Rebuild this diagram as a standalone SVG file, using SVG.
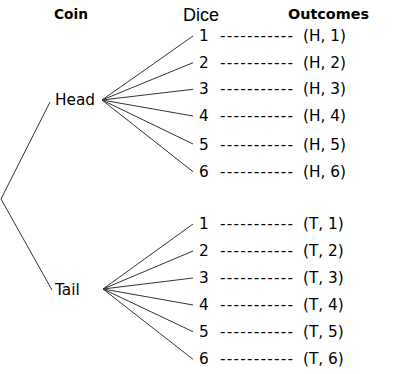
<svg xmlns="http://www.w3.org/2000/svg" width="407" height="374" viewBox="0 0 407 374">
<style>
.t{font-family:"DejaVu Sans",Verdana,sans-serif;font-size:15.3px;fill:#000}
.h{font-family:"DejaVu Sans",Verdana,sans-serif;font-size:14px;font-weight:bold;fill:#000}
.d{font-family:"Liberation Sans",Arial,sans-serif;font-size:18px;fill:#000}
.c line{stroke:#333;stroke-width:1}
</style>
<rect width="407" height="374" fill="#fff"/>
<g id="hdr-coin"><text class="h" x="54" y="19" textLength="34" lengthAdjust="spacingAndGlyphs">Coin</text></g>
<g id="hdr-dice"><text class="d" x="183" y="21" textLength="36" lengthAdjust="spacingAndGlyphs">Dice</text></g>
<g id="hdr-outcomes"><text class="h" x="288" y="19" textLength="81" lengthAdjust="spacingAndGlyphs">Outcomes</text></g>
<g id="connectors" class="c">
<line x1="1" y1="199" x2="50" y2="102"/>
<line x1="1" y1="199" x2="52" y2="290"/>
<line x1="102" y1="100" x2="193" y2="36"/>
<line x1="102" y1="100" x2="193" y2="62.7"/>
<line x1="102" y1="100" x2="193" y2="89.3"/>
<line x1="102" y1="100" x2="193" y2="116"/>
<line x1="102" y1="100" x2="193" y2="144"/>
<line x1="102" y1="100" x2="193" y2="171.7"/>
<line x1="103" y1="289" x2="193" y2="224"/>
<line x1="103" y1="289" x2="193" y2="251"/>
<line x1="103" y1="289" x2="193" y2="278"/>
<line x1="103" y1="289" x2="193" y2="305"/>
<line x1="103" y1="289" x2="193" y2="331.7"/>
<line x1="103" y1="289" x2="193" y2="359.3"/>
</g>
<g id="head"><text class="t" x="55" y="105">Head</text></g>
<g id="tail"><text class="t" x="55" y="295">Tail</text></g>
<g id="h1"><text class="t" x="199" y="41">1</text><text class="t" x="220" y="41" textLength="73" lengthAdjust="spacing">-----------</text><text class="t" x="303" y="41">(H, 1)</text></g>
<g id="h2"><text class="t" x="199" y="67.5">2</text><text class="t" x="220" y="67.5" textLength="73" lengthAdjust="spacing">-----------</text><text class="t" x="303" y="67.5">(H, 2)</text></g>
<g id="h3"><text class="t" x="199" y="94">3</text><text class="t" x="220" y="94" textLength="73" lengthAdjust="spacing">-----------</text><text class="t" x="303" y="94">(H, 3)</text></g>
<g id="h4"><text class="t" x="199" y="121">4</text><text class="t" x="220" y="121" textLength="73" lengthAdjust="spacing">-----------</text><text class="t" x="303" y="121">(H, 4)</text></g>
<g id="h5"><text class="t" x="199" y="149.5">5</text><text class="t" x="220" y="149.5" textLength="73" lengthAdjust="spacing">-----------</text><text class="t" x="303" y="149.5">(H, 5)</text></g>
<g id="h6"><text class="t" x="199" y="176.5">6</text><text class="t" x="220" y="176.5" textLength="73" lengthAdjust="spacing">-----------</text><text class="t" x="303" y="176.5">(H, 6)</text></g>
<g id="t1"><text class="t" x="199" y="229">1</text><text class="t" x="220" y="229" textLength="73" lengthAdjust="spacing">-----------</text><text class="t" x="303" y="229">(T, 1)</text></g>
<g id="t2"><text class="t" x="199" y="255.5">2</text><text class="t" x="220" y="255.5" textLength="73" lengthAdjust="spacing">-----------</text><text class="t" x="303" y="255.5">(T, 2)</text></g>
<g id="t3"><text class="t" x="199" y="282.5">3</text><text class="t" x="220" y="282.5" textLength="73" lengthAdjust="spacing">-----------</text><text class="t" x="303" y="282.5">(T, 3)</text></g>
<g id="t4"><text class="t" x="199" y="309.5">4</text><text class="t" x="220" y="309.5" textLength="73" lengthAdjust="spacing">-----------</text><text class="t" x="303" y="309.5">(T, 4)</text></g>
<g id="t5"><text class="t" x="199" y="336.5">5</text><text class="t" x="220" y="336.5" textLength="73" lengthAdjust="spacing">-----------</text><text class="t" x="303" y="336.5">(T, 5)</text></g>
<g id="t6"><text class="t" x="199" y="364">6</text><text class="t" x="220" y="364" textLength="73" lengthAdjust="spacing">-----------</text><text class="t" x="303" y="364">(T, 6)</text></g>
</svg>
